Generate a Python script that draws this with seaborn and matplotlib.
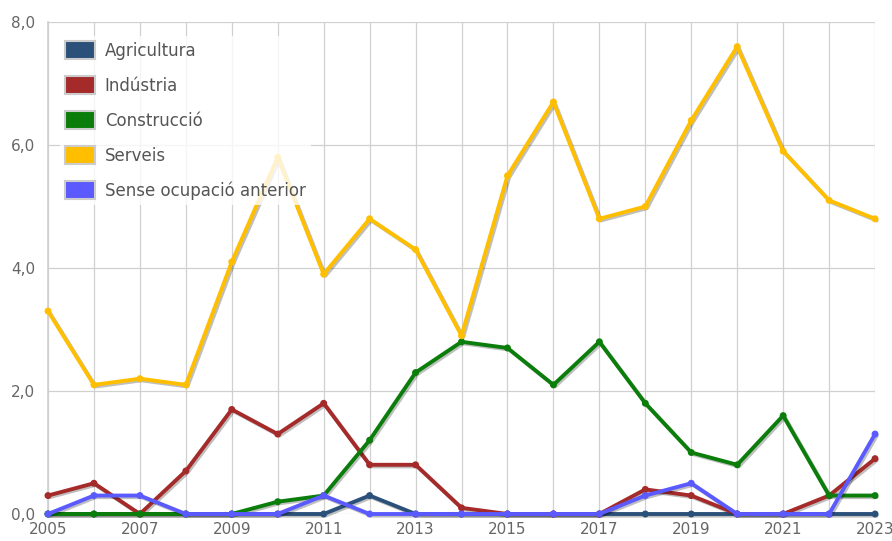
import matplotlib
matplotlib.use("Agg")
import matplotlib.pyplot as plt
import matplotlib.patheffects as pe
from matplotlib.patches import Patch
from matplotlib.ticker import FuncFormatter, MultipleLocator, FixedLocator
import seaborn as sns
import pandas as pd

years = list(range(2005, 2024))
agricultura = [0, 0, 0, 0, 0, 0, 0, 0.3, 0, 0, 0, 0, 0, 0, 0, 0, 0, 0, 0]
industria = [0.3, 0.5, 0.0, 0.7, 1.7, 1.3, 1.8, 0.8, 0.8, 0.1, 0.0, 0.0, 0.0, 0.4, 0.3, 0.0, 0.0, 0.3, 0.9]
construccio = [0, 0, 0, 0, 0, 0.2, 0.3, 1.2, 2.3, 2.8, 2.7, 2.1, 2.8, 1.8, 1.0, 0.8, 1.6, 0.3, 0.3]
serveis = [3.3, 2.1, 2.2, 2.1, 4.1, 5.8, 3.9, 4.8, 4.3, 2.9, 5.5, 6.7, 4.8, 5.0, 6.4, 7.6, 5.9, 5.1, 4.8]
sense = [0, 0.3, 0.3, 0, 0, 0, 0.3, 0, 0, 0, 0, 0, 0, 0.3, 0.5, 0, 0, 0, 1.3]
xtick_years = list(range(2005, 2024, 2))

names = ["Agricultura", "Indústria", "Construcció", "Serveis", "Sense ocupació anterior"]
colors = ["#2b5079", "#a52a2a", "#0a7d0a", "#ffbf00", "#5a5aff"]
series = [agricultura, industria, construccio, serveis, sense]

rows = []
for n, vals in zip(names, series):
    for y, v in zip(years, vals):
        rows.append({"Any": y, "Valor": v, "Sector": n})
df = pd.DataFrame(rows)

sns.set_theme(style="white")
plt.rcParams['font.family'] = ['DejaVu Sans']

fig = plt.figure(figsize=(8.92, 5.41), dpi=100)
ax = fig.add_axes([0.0538, 0.0499, 0.9272, 0.9094])

for n, c in zip(names, colors):
    d = df[df["Sector"] == n]
    sns.lineplot(data=d, x="Any", y="Valor", color=c, lw=2.8, marker="o",
                 markersize=5, markeredgewidth=0, ax=ax, legend=False,
                 path_effects=[pe.SimpleLineShadow(offset=(1.2, -1.2), alpha=0.25, shadow_color="black"), pe.Normal()],
                 clip_on=False, zorder=3)

ax.set_xlim(2005, 2023)
ax.set_ylim(0, 8)
ax.xaxis.set_major_locator(FixedLocator(xtick_years))
ax.xaxis.set_minor_locator(FixedLocator(years))
ax.yaxis.set_major_locator(MultipleLocator(2))
ax.yaxis.set_major_formatter(FuncFormatter(lambda v, p: f"{v:.1f}".replace(".", ",")))
ax.grid(True, which="both", axis="x", color="#d0d0d0", lw=0.9)
ax.grid(True, which="major", axis="y", color="#d0d0d0", lw=0.9)
ax.set_axisbelow(True)
for s in ax.spines.values():
    s.set_visible(False)
ax.spines["left"].set_visible(True)
ax.spines["left"].set_color("#d0d0d0")
ax.set_xlabel("")
ax.set_ylabel("")
ax.tick_params(axis="both", which="both", length=0, labelsize=11, colors="#666666")
ax.tick_params(axis="x", pad=6)
ax.tick_params(axis="y", pad=9)
for lab in ax.get_yticklabels():
    lab.set_verticalalignment("center_baseline")

handles = [Patch(facecolor=c, edgecolor="#cccccc", linewidth=1.5) for c in colors]
leg = ax.legend(handles, names, loc="upper left", bbox_to_anchor=(0.004, 0.988),
                frameon=True, fontsize=12, handlelength=1.8, handleheight=1.3,
                labelspacing=0.98, handletextpad=0.6, borderpad=0.3)
leg.get_frame().set_facecolor("white")
leg.get_frame().set_alpha(0.8)
leg.get_frame().set_edgecolor("none")
for t in leg.get_texts():
    t.set_color("#555555")
leg.set_zorder(5)

fig.savefig("out.png", dpi=100)
